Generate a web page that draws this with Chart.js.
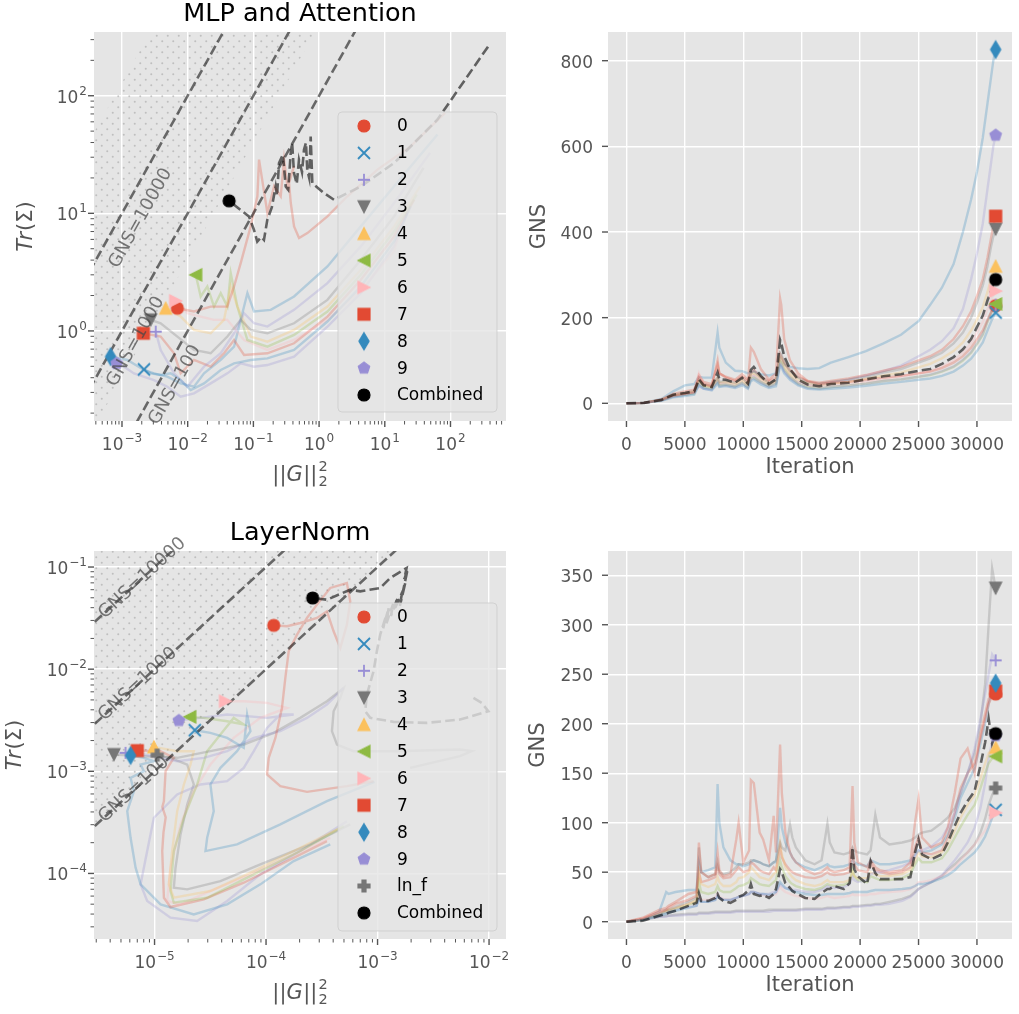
<!DOCTYPE html>
<html><head><meta charset="utf-8">
<script src="https://cdn.jsdelivr.net/npm/chart.js@4.4.1/dist/chart.umd.min.js"></script>
<style>
html,body{margin:0;padding:0;background:#fff;width:1019px;height:1014px;overflow:hidden;position:relative}
canvas{position:absolute;display:block}
</style></head><body>
<canvas id="tl" width="520" height="505" style="left:0;top:0;width:520px;height:505px"></canvas>
<canvas id="tr" width="509" height="505" style="left:510px;top:0;width:509px;height:505px"></canvas>
<canvas id="bl" width="520" height="509" style="left:0;top:505px;width:520px;height:509px"></canvas>
<canvas id="br" width="509" height="509" style="left:510px;top:505px;width:509px;height:509px"></canvas>
<script>
// ---------------- DATA ----------------
const seriesNames = ['0','1','2','3','4','5','6','7','8','9'];
const seriesColors = ['#E24A33','#348ABD','#988ED5','#777777','#FBC15E','#8EBA42','#FFB5B8','#E24A33','#348ABD','#988ED5'];
const seriesMarkers = ['o','x','+','v','^','<','>','s','d','p'];
const lnfName = 'ln_f', lnfColor = '#777777', lnfMarker = 'P';

// Tick labels (log axes: base "10" with an exponent)
const mlpGTickExps = [-3,-2,-1,0,1,2];
const mlpGTickLabels = ['−3','−2','−1','0','1','2'];
const mlpTrTickExps = [0,1,2];
const mlpTrTickLabels = ['0','1','2'];
const lnGTickExps = [-5,-4,-3,-2];
const lnGTickLabels = ['−5','−4','−3','−2'];
const lnTrTickExps = [-4,-3,-2,-1];
const lnTrTickLabels = ['−4','−3','−2','−1'];
const iterTicks = [0,5000,10000,15000,20000,25000,30000];
const mlpGnsTicks = [0,200,400,600,800];
const lnGnsTicks = [0,50,100,150,200,250,300,350];

// Reference GNS iso-lines
const gnsLevels = [100,1000,10000];
const gnsLineG = [1e-8,1e4];
const mlpHatchBand = [400,130000];
const lnHatchBand = [100,null];
const mlpGnsLabelText = ['GNS=10000','GNS=1000','GNS=100'];
const mlpGnsLabelLogG = [-2.715,-2.791,-2.193];
const mlpGnsLabelLogTr = [0.959,-0.091,-0.46];
const lnGnsLabelText = ['GNS=10000','GNS=1000','GNS=100'];
const lnGnsLabelLogG = [-5.110,-5.150,-5.185];
const lnGnsLabelLogTr = [-1.111,-2.147,-3.18];

// MLP and Attention: trajectories as [log10 ||G||^2, log10 Tr(Sigma)], start -> end
const mlpPathCombined = [[2.571,2.417],[1.80,1.796],[1.14,1.427],[0.633,1.228],[0.227,1.115],[0.075,1.172],[-0.103,1.257],[-0.115,1.45],[-0.128,1.654],[-0.15,1.30],[-0.18,1.37],[-0.20,1.60],[-0.23,1.54],[-0.26,1.35],[-0.306,1.455],[-0.34,1.25],[-0.382,1.342],[-0.41,1.60],[-0.432,1.512],[-0.47,1.20],[-0.508,1.228],[-0.55,1.50],[-0.61,1.427],[-0.64,1.15],[-0.661,1.228],[-0.72,1.05],[-0.788,0.945],[-0.839,0.774],[-0.88,0.80],[-0.941,0.76],[-0.991,0.86],[-1.067,0.973],[-1.37,1.106]];
const mlpPath0 = [[1.919,1.855],[1.396,1.571],[0.888,1.372],[0.431,1.145],[0.127,0.974],[-0.178,0.832],[-0.305,0.790],[-0.381,0.889],[-0.431,1.088],[-0.457,1.259],[-0.381,1.401],[-0.482,1.230],[-0.533,1.457],[-0.584,1.145],[-0.685,1.230],[-0.787,1.003],[-0.914,1.457],[-0.939,1.145],[-1.041,0.889],[-1.193,0.577],[-1.294,0.378],[-1.396,0.207],[-1.650,0.207],[-1.904,0.165],[-2.157,0.193]];
const mlpPath1 = [[1.396,1.060],[1.142,0.761],[0.635,0.378],[0.127,0.080],[-0.381,-0.162],[-0.787,-0.233],[-1.041,-0.247],[-1.294,-0.276],[-1.497,-0.332],[-1.751,-0.446],[-1.954,-0.503],[-2.107,-0.418],[-2.259,-0.361],[-2.411,-0.375],[-2.563,-0.361],[-2.665,-0.327]];
const mlpPath2 = [[1.690,1.514],[1.142,1.088],[0.635,0.719],[0.127,0.406],[-0.381,0.179],[-0.787,0.037],[-0.990,0.065],[-1.142,0.151],[-1.294,-0.020],[-1.497,-0.190],[-1.751,-0.304],[-2.005,-0.474],[-2.208,-0.361],[-2.411,-0.162],[-2.487,-0.006]];
const mlpPath3 = [[1.589,1.386],[1.142,0.974],[0.635,0.605],[0.127,0.264],[-0.381,0.065],[-0.787,-0.020],[-1.041,0.009],[-1.193,0.094],[-1.396,-0.048],[-1.650,-0.190],[-1.904,-0.162],[-2.157,-0.048],[-2.411,0.065],[-2.563,0.094]];
const mlpPath4 = [[1.538,1.230],[1.142,0.889],[0.635,0.520],[0.127,0.207],[-0.381,0.009],[-0.787,-0.091],[-1.041,-0.048],[-1.244,0.207],[-1.345,0.378],[-1.447,0.094],[-1.650,-0.020],[-1.904,0.009],[-2.107,0.122],[-2.335,0.193]];
const mlpPath5 = [[1.487,1.159],[1.142,0.847],[0.635,0.477],[0.127,0.165],[-0.381,-0.034],[-0.787,-0.134],[-1.091,-0.077],[-1.244,0.207],[-1.345,0.491],[-1.396,0.207],[-1.497,0.321],[-1.599,0.207],[-1.701,0.378],[-1.802,0.293],[-1.878,0.477]];
const mlpPath6 = [[1.294,0.974],[1.142,0.676],[0.635,0.349],[0.127,0.094],[-0.381,-0.077],[-0.787,-0.162],[-1.142,-0.077],[-1.396,0.094],[-1.599,0.094],[-1.802,0.122],[-2.005,0.151],[-2.183,0.256]];
const mlpPath7 = [[1.447,1.116],[1.142,0.804],[0.635,0.435],[0.127,0.122],[-0.381,-0.105],[-0.787,-0.190],[-1.142,-0.205],[-1.294,-0.077],[-1.447,-0.190],[-1.650,-0.304],[-1.904,-0.247],[-2.107,-0.361],[-2.208,-0.190],[-2.411,-0.048],[-2.675,-0.020]];
const mlpPath8 = [[1.802,1.670],[1.142,1.230],[0.635,0.889],[0.127,0.548],[-0.381,0.293],[-0.736,0.179],[-0.990,0.165],[-1.091,0.321],[-1.142,0.207],[-1.193,0.094],[-1.294,-0.134],[-1.497,-0.247],[-1.751,-0.361],[-1.904,-0.474],[-2.107,-0.446],[-2.310,-0.389],[-2.513,-0.361],[-2.665,-0.332],[-2.919,-0.247],[-3.173,-0.219]];
const mlpPath9 = [[1.345,1.003],[1.142,0.719],[0.635,0.321],[0.127,0.037],[-0.381,-0.219],[-0.787,-0.290],[-0.990,-0.304],[-1.193,-0.276],[-1.396,-0.361],[-1.650,-0.446],[-1.904,-0.531],[-2.107,-0.560],[-2.310,-0.474],[-2.513,-0.418],[-2.817,-0.361],[-2.970,-0.304],[-3.081,-0.276]];

// LayerNorm trajectories [log10 ||G||^2, log10 Tr(Sigma)]
const lnPathCombined = [[-2.140,-2.281],[-2.066,-2.330],[-2.006,-2.412],[-2.260,-2.493],[-2.558,-2.526],[-2.857,-2.516],[-3.066,-2.477],[-3.110,-2.412],[-3.096,-2.249],[-3.036,-2.021],[-3.006,-1.825],[-2.976,-1.662],[-2.93,-1.50],[-2.95,-1.60],[-2.90,-1.40],[-2.92,-1.55],[-2.86,-1.36],[-2.88,-1.48],[-2.82,-1.30],[-2.85,-1.42],[-2.78,-1.25],[-2.80,-1.38],[-2.75,-1.15],[-2.78,-1.28],[-2.73,-1.02],[-2.76,-1.12],[-2.74,-1.01],[-2.887,-1.108],[-2.976,-1.205],[-3.155,-1.238],[-3.245,-1.222],[-3.454,-1.320],[-3.582,-1.303]];
const lnPath0 = [[-3.036,-3.097],[-3.275,-3.145],[-3.633,-3.201],[-3.872,-3.145],[-3.991,-3.031],[-3.976,-2.868],[-3.916,-2.673],[-3.857,-2.379],[-3.827,-2.086],[-3.797,-1.825],[-3.722,-1.662],[-3.633,-1.499],[-3.543,-1.368],[-3.424,-1.205],[-3.275,-1.157],[-3.245,-1.336],[-3.275,-1.564],[-3.334,-1.792],[-3.394,-1.629],[-3.454,-1.434],[-3.543,-1.499],[-3.693,-1.548],[-3.812,-1.580],[-3.931,-1.571]];
const lnPath1 = [[-3.027,-3.103],[-3.454,-3.292],[-3.872,-3.520],[-4.260,-3.716],[-4.543,-3.781],[-4.528,-3.651],[-4.469,-3.390],[-4.499,-3.129],[-4.409,-2.966],[-4.260,-2.803],[-4.140,-2.607],[-4.170,-2.444],[-4.200,-2.770],[-4.349,-2.673],[-4.499,-2.624],[-4.639,-2.598]];
const lnPath2 = [[-3.304,-2.184],[-3.454,-2.347],[-3.633,-2.477],[-3.872,-2.607],[-4.110,-2.673],[-4.349,-2.803],[-4.558,-2.868],[-4.797,-2.901],[-5.096,-2.836],[-5.260,-2.819]];
const lnPath3 = [[-2.707,-2.966],[-2.260,-2.852],[-2.155,-2.803],[-2.260,-2.787],[-2.857,-2.803],[-3.215,-2.803],[-3.364,-2.738],[-3.409,-2.607],[-3.394,-2.412],[-3.334,-2.281],[-3.304,-2.184],[-3.454,-2.314],[-3.693,-2.477],[-3.931,-2.624],[-4.200,-2.738],[-4.499,-2.803],[-4.797,-2.868],[-5.096,-2.852],[-5.364,-2.836]];
const lnPath4 = [[-3.334,-3.553],[-3.693,-3.749],[-4.110,-3.977],[-4.499,-4.172],[-4.827,-4.238],[-4.872,-4.107],[-4.842,-3.781],[-4.797,-3.390],[-4.737,-3.129],[-4.678,-2.934],[-4.648,-2.803],[-4.797,-2.803],[-5.006,-2.761]];
const lnPath5 = [[-3.304,-3.537],[-3.693,-3.781],[-4.110,-4.009],[-4.528,-4.238],[-4.827,-4.287],[-4.857,-4.172],[-4.827,-3.781],[-4.737,-3.455],[-4.618,-3.129],[-4.528,-2.803],[-4.409,-2.640],[-4.290,-2.477],[-4.200,-2.542],[-4.349,-2.510],[-4.558,-2.477],[-4.684,-2.467]];
const lnPath6 = [[-3.424,-3.651],[-3.752,-3.814],[-4.140,-4.009],[-4.499,-4.172],[-4.767,-4.303],[-4.887,-4.270],[-4.857,-3.944],[-4.767,-3.520],[-4.648,-3.194],[-4.499,-2.934],[-4.290,-2.673],[-4.051,-2.477],[-3.812,-2.379],[-3.991,-2.330],[-4.200,-2.314],[-4.364,-2.314]];
const lnPath7 = [[-3.454,-3.683],[-3.812,-3.879],[-4.200,-4.091],[-4.558,-4.254],[-4.857,-4.329],[-4.916,-4.238],[-4.931,-3.781],[-4.92,-3.60],[-4.90,-3.45],[-4.93,-3.35],[-4.916,-3.292],[-4.901,-2.999],[-4.827,-2.868],[-4.946,-2.803],[-5.155,-2.797]];
const lnPath8 = [[-3.424,-3.716],[-3.752,-3.879],[-4.051,-4.107],[-4.349,-4.303],[-4.648,-4.401],[-4.946,-4.303],[-5.125,-4.107],[-5.170,-3.944],[-5.215,-3.651],[-5.245,-3.390],[-5.185,-3.194],[-5.215,-3.064],[-5.096,-2.999],[-5.125,-2.934],[-5.006,-2.901],[-5.096,-2.868],[-5.215,-2.845]];
const lnPath9 = [[-3.275,-3.488],[-3.693,-3.781],[-4.051,-4.009],[-4.349,-4.270],[-4.618,-4.466],[-4.857,-4.433],[-5.066,-4.270],[-5.125,-4.107],[-5.066,-3.781],[-5.006,-3.455],[-4.797,-3.227],[-4.588,-3.129],[-4.349,-3.097],[-4.200,-2.966],[-4.110,-2.803],[-3.991,-2.575],[-3.872,-2.444],[-3.752,-2.444],[-3.991,-2.477],[-4.349,-2.444],[-4.588,-2.477],[-4.782,-2.503]];
const lnPathLnF = [[-3.245,-3.520],[-3.603,-3.716],[-4.051,-3.912],[-4.409,-4.075],[-4.707,-4.156],[-4.827,-4.140],[-4.812,-3.944],[-4.767,-3.618],[-4.707,-3.325],[-4.648,-3.129],[-4.707,-2.934],[-4.857,-2.868],[-4.976,-2.842]];

// MLP and Attention: GNS vs iteration
const mlpIters = [0,1500,3000,4000,5000,5800,6200,6600,7300,7800,7950,8500,9300,9900,10400,10650,10900,11500,12200,12800,13150,13250,13500,14000,14700,15500,16500,17500,19000,20500,22000,23500,25000,26000,27000,28000,28800,29500,30000,30500,30900,31200,31400,31600];
const mlpGns0 = [0,1,8,18,22,26,60,45,40,100,70,60,52,62,50,130,120,80,55,70,245,230,150,100,70,52,45,48,50,55,60,64,70,74,82,95,110,130,150,170,195,212,222,228];
const mlpGns1 = [0,1,6,14,17,20,42,34,30,46,38,40,36,42,34,52,55,44,36,40,88,85,70,55,42,34,32,34,37,41,46,50,55,58,64,74,88,104,122,142,170,190,202,212];
const mlpGns2 = [0,1,7,16,20,24,46,36,33,50,40,42,38,46,36,56,58,48,38,44,92,90,75,58,44,36,34,38,41,46,52,56,62,67,75,86,102,120,140,162,192,212,224,230];
const mlpGns3 = [0,1,8,20,25,28,55,44,40,62,50,52,48,58,46,70,75,60,48,55,118,115,95,75,60,50,46,50,55,62,72,80,95,105,118,140,165,200,235,275,320,365,390,407];
const mlpGns4 = [0,1,8,19,23,27,52,42,38,60,48,50,46,55,44,66,70,58,46,52,108,105,90,70,55,46,42,46,50,57,65,72,84,92,105,122,142,170,195,225,260,290,308,320];
const mlpGns5 = [0,1,7,17,20,23,48,38,34,52,42,44,40,48,38,58,60,50,40,46,98,95,80,62,46,38,35,38,42,46,52,56,62,66,74,85,100,118,138,160,190,210,222,232];
const mlpGns6 = [0,1,7,18,22,25,70,45,38,58,46,48,44,52,42,62,66,54,44,50,102,100,85,66,50,42,38,42,45,50,56,62,70,76,86,100,118,140,165,190,220,240,253,262];
const mlpGns7 = [0,1,9,22,28,32,66,50,45,90,70,62,55,68,55,70,78,62,52,60,115,110,95,78,62,52,48,52,58,66,76,85,100,110,125,150,180,215,250,290,340,385,415,437];
const mlpGns8 = [0,1,10,28,42,45,62,60,60,165,130,95,76,75,70,72,75,68,65,70,105,100,90,85,82,80,82,95,108,122,140,160,192,230,270,325,400,476,540,620,700,760,800,826];
const mlpGns9 = [0,1,7,16,20,24,40,34,32,55,45,44,40,48,38,60,65,50,40,48,95,90,75,60,48,42,42,48,55,65,75,88,110,125,145,175,220,290,350,420,500,560,600,626];
const mlpGnsCombined = [0,1,8,20,24,28,56,42,38,72,56,55,48,60,46,78,85,64,45,56,148,140,110,80,55,44,40,45,48,56,63,68,76,80,92,108,126,150,178,205,240,262,278,289];

// LayerNorm: GNS vs iteration
const lnIters = [0,1400,2800,3400,3600,4200,5300,6000,6200,6400,7000,7600,7800,7950,8300,8900,9400,9600,10000,10500,10650,10900,11400,11700,12200,12600,12800,13150,13300,13600,14000,14200,14500,15300,16100,16700,17200,17400,17800,18600,19100,19350,19500,19800,20600,20900,21300,21700,22500,23600,24300,24700,25000,25300,26100,27000,27500,28100,28600,29200,29800,30300,30700,31000,31300,31600];
const lnGns0 = [0,3,10,12,14,18,22,26,80,50,45,48,70,52,46,48,83,100,60,72,143,140,90,83,62,107,70,179,130,90,70,65,60,52,48,50,55,52,50,52,55,137,80,60,55,62,55,52,50,52,60,100,124,85,75,80,95,130,165,175,150,190,210,225,228,230];
const lnGns1 = [0,2,6,8,9,11,14,16,22,20,20,22,26,24,22,22,24,25,26,28,30,30,28,28,27,28,30,40,38,34,32,31,30,28,27,27,28,28,28,28,29,30,30,30,30,31,32,32,32,33,34,36,38,38,40,44,47,52,58,64,70,78,86,95,105,113];
const lnGns2 = [0,2,7,9,10,12,15,16,22,20,20,22,26,24,22,22,24,25,26,28,30,30,28,28,28,30,30,38,36,34,33,32,32,30,30,32,36,35,34,35,38,45,42,40,42,48,50,50,52,56,60,66,72,72,76,85,95,110,130,150,175,205,230,250,270,264];
const lnGns3 = [0,2,8,12,12,15,20,24,75,50,45,48,60,50,48,50,55,58,58,60,62,62,60,58,56,60,62,80,75,72,98,85,75,62,58,62,99,80,70,68,70,75,72,70,68,72,108,85,78,80,82,85,88,90,92,100,105,115,130,150,170,200,240,300,357,337];
const lnGns4 = [0,2,8,11,12,14,18,22,50,38,35,38,45,40,36,36,40,44,45,50,55,52,45,44,42,48,50,80,68,55,48,45,42,38,36,38,42,40,40,40,42,50,46,44,44,50,48,46,46,48,52,62,70,66,65,70,78,92,105,118,128,145,160,170,175,176];
const lnGns5 = [0,2,7,10,11,13,17,20,40,30,28,30,36,32,30,30,34,36,37,40,44,42,38,37,36,40,42,62,55,46,40,38,36,33,32,34,38,37,36,37,40,52,46,42,40,46,44,42,42,44,48,58,64,60,60,64,72,85,96,108,118,135,150,160,165,167];
const lnGns6 = [0,3,9,11,12,14,18,20,26,22,22,24,28,25,23,22,24,25,26,28,30,30,28,27,26,27,28,35,33,30,28,27,26,24,23,24,26,25,24,25,26,28,27,27,27,28,28,29,30,31,33,36,40,40,42,46,50,55,62,70,78,86,92,100,105,110];
const lnGns7 = [0,4,12,14,16,20,28,30,50,40,42,45,55,48,44,45,52,55,50,52,60,58,52,50,48,55,52,75,65,58,52,50,48,45,44,46,50,48,47,48,50,70,58,52,50,58,52,50,48,50,55,75,85,70,68,72,85,110,135,150,160,185,205,220,228,233];
const lnGns8 = [0,2,10,30,28,30,32,32,60,50,52,55,139,100,75,62,58,58,56,58,60,62,60,58,56,60,60,115,95,80,70,65,60,55,52,55,58,56,55,56,58,62,60,58,56,62,60,58,58,60,62,68,72,70,72,78,88,105,125,140,155,180,200,220,235,241];
const lnGns9 = [0,2,5,5,6,6,7,7,8,8,8,9,9,9,9,9,10,10,10,10,10,10,10,10,10,11,11,11,11,11,11,11,11,12,12,12,13,13,13,14,14,15,15,15,16,16,17,17,18,21,25,29,33,35,40,47,54,62,70,80,95,115,140,165,182,188];
const lnGnsLnF = [0,2,5,6,6,7,8,8,9,9,9,10,10,10,10,10,11,11,11,11,11,11,11,11,12,12,12,12,12,12,12,12,12,13,13,13,14,14,14,15,15,16,16,16,17,17,18,18,20,23,26,30,33,35,40,46,52,58,64,70,78,90,104,118,128,135];
const lnGnsCombined = [0,1,6,8,9,11,16,19,29,21,21,24,28,24,21,19,22,25,27,32,38,28,26,27,24,28,33,53,50,39,34,31,29,24,23,29,33,33,36,33,39,75,53,46,38,61,49,43,43,43,45,70,83,68,63,68,80,97,110,122,132,158,181,205,180,190];

// ---------------- RENDERING ----------------
const FONT = '"DejaVu Sans", "Liberation Sans", sans-serif';
Chart.defaults.font.family = FONT;
Chart.defaults.color = '#555555';

function rgba(hex, a) { const n = parseInt(hex.slice(1), 16); return `rgba(${(n>>16)&255},${(n>>8)&255},${n&255},${a})`; }

function markerImg(kind, color) {
  const S = 26, c = document.createElement('canvas'); c.width = S; c.height = S;
  const g = c.getContext('2d'); g.translate(S/2, S/2);
  g.fillStyle = color; g.strokeStyle = color; g.lineWidth = 1.6; g.lineJoin = 'miter';
  const h = 6; g.beginPath();
  let filled = true;
  switch (kind) {
    case 'o': g.arc(0,0,h,0,Math.PI*2); break;
    case 'x': g.moveTo(-h,-h); g.lineTo(h,h); g.moveTo(-h,h); g.lineTo(h,-h); filled = false; g.lineWidth = 1.8; break;
    case '+': g.moveTo(-h,0); g.lineTo(h,0); g.moveTo(0,-h); g.lineTo(0,h); filled = false; g.lineWidth = 1.8; break;
    case '^': g.moveTo(0,-h); g.lineTo(h,h); g.lineTo(-h,h); g.closePath(); break;
    case 'v': g.moveTo(0,h); g.lineTo(h,-h); g.lineTo(-h,-h); g.closePath(); break;
    case '<': g.moveTo(-h,0); g.lineTo(h,-h); g.lineTo(h,h); g.closePath(); break;
    case '>': g.moveTo(h,0); g.lineTo(-h,-h); g.lineTo(-h,h); g.closePath(); break;
    case 's': g.rect(-h,-h,2*h,2*h); break;
    case 'd': g.moveTo(0,-h*1.414); g.lineTo(h*0.85,0); g.lineTo(0,h*1.414); g.lineTo(-h*0.85,0); g.closePath(); break;
    case 'p': for (let k = 0; k < 5; k++) { const a = -Math.PI/2 + k*2*Math.PI/5; const px = h*Math.cos(a), py = h*Math.sin(a); if (k) g.lineTo(px,py); else g.moveTo(px,py); } g.closePath(); break;
    case 'P': { const t = h/3; g.moveTo(-t,-h); g.lineTo(t,-h); g.lineTo(t,-t); g.lineTo(h,-t); g.lineTo(h,t); g.lineTo(t,t); g.lineTo(t,h); g.lineTo(-t,h); g.lineTo(-t,t); g.lineTo(-h,t); g.lineTo(-h,-t); g.lineTo(-t,-t); g.closePath(); break; }
  }
  if (filled) { g.fill(); g.lineWidth = 1.2; g.stroke(); } else g.stroke();
  return c;
}

function dotPattern() {
  const p = document.createElement('canvas'); p.width = 11; p.height = 11;
  const g = p.getContext('2d'); g.fillStyle = 'rgba(165,165,165,0.6)';
  g.beginPath(); g.arc(2.75,2.75,1.0,0,Math.PI*2); g.fill();
  g.beginPath(); g.arc(8.25,8.25,1.0,0,Math.PI*2); g.fill();
  return g.createPattern(p, 'repeat');
}

const logPts = path => path.map(p => ({x: Math.pow(10, p[0]), y: Math.pow(10, p[1])}));
const tsPts = iters => vals => vals.map((v, i) => ({x: iters[i], y: v}));

function seriesDatasets(series, combined, toPts) {
  const ds = [];
  series.forEach((s, i) => {
    const pts = toPts(s.data);
    ds.push({data: pts, showLine: true, borderColor: rgba(s.color, 0.28), borderWidth: 2.4, pointRadius: 0, pointHoverRadius: 0, fill: false, tension: 0, order: 10});
    ds.push({data: [pts[pts.length-1]], showLine: false, pointStyle: markerImg(s.marker, s.color), pointRadius: 6, pointHoverRadius: 6, order: 1 + (series.length - i) * 0.01});
  });
  const cp = toPts(combined);
  ds.push({data: cp, showLine: true, borderColor: 'rgba(0,0,0,0.58)', borderDash: [9.6, 4.2], borderWidth: 2.6, pointRadius: 0, pointHoverRadius: 0, fill: false, tension: 0, order: 5});
  ds.push({data: [cp[cp.length-1]], showLine: false, pointStyle: markerImg('o', '#000000'), pointRadius: 6, pointHoverRadius: 6, order: 0});
  return ds;
}

// datasets 0 and 1: dotted hatch band; then the three dashed GNS iso-lines
function gnsDatasets(band) {
  const ds = [];
  const lo = band[0], hi = band[1];
  ds.push({data: gnsLineG.map(g => ({x: g, y: g * lo})), showLine: true, borderWidth: 0, borderColor: 'rgba(0,0,0,0)', backgroundColor: dotPattern(), fill: hi ? 1 : 'end', pointRadius: 0, pointHoverRadius: 0, order: 20});
  ds.push({data: gnsLineG.map(g => ({x: g, y: g * (hi || lo)})), showLine: true, borderWidth: 0, borderColor: 'rgba(0,0,0,0)', fill: false, pointRadius: 0, pointHoverRadius: 0, order: 21});
  gnsLevels.forEach(lv => ds.push({data: gnsLineG.map(g => ({x: g, y: g * lv})), showLine: true, borderColor: 'rgba(0,0,0,0.55)', borderDash: [9.6, 4.2], borderWidth: 2.6, pointRadius: 0, pointHoverRadius: 0, fill: false, order: 8}));
  return ds;
}

function logTickList(minExp, maxExp, exps, labels) {
  const out = [];
  for (let e = Math.floor(minExp); e <= Math.ceil(maxExp); e++) for (let m = 1; m <= 9; m++) {
    const v = m * Math.pow(10, e), lv = Math.log10(v);
    if (lv >= minExp && lv <= maxExp) {
      const i = exps.indexOf(e);
      out.push({value: v, major: m === 1, base: (m === 1 && i >= 0) ? '10' : '', exp: (m === 1 && i >= 0) ? labels[i] : ''});
    }
  }
  return out;
}
const linTicks = arr => arr.map(v => ({value: v, major: true, base: String(v), exp: ''}));

function roundRect(ctx, x, y, w, h, r) {
  ctx.beginPath(); ctx.moveTo(x + r, y); ctx.lineTo(x + w - r, y); ctx.quadraticCurveTo(x + w, y, x + w, y + r);
  ctx.lineTo(x + w, y + h - r); ctx.quadraticCurveTo(x + w, y + h, x + w - r, y + h); ctx.lineTo(x + r, y + h);
  ctx.quadraticCurveTo(x, y + h, x, y + h - r); ctx.lineTo(x, y + r); ctx.quadraticCurveTo(x, y, x + r, y); ctx.closePath();
}

function drawPieces(ctx, pieces, cx, baseline) {
  let w = 0; pieces.forEach(p => { ctx.font = p.font; p.w = ctx.measureText(p.t).width; w += p.w + (p.gap || 0); });
  let x = cx - w / 2;
  pieces.forEach(p => { ctx.font = p.font; ctx.fillText(p.t, x, baseline + (p.dy || 0)); x += p.w + (p.gap || 0); });
}

// tick label: base text (17px) with optional raised exponent (12px)
function tickLabelWidth(ctx, t) {
  ctx.font = `17px ${FONT}`; let w = ctx.measureText(t.base).width;
  if (t.exp) { ctx.font = `12px ${FONT}`; w += 1 + ctx.measureText(t.exp).width; }
  return w;
}
function drawTickLabel(ctx, t, xLeft, baseline) {
  ctx.font = `17px ${FONT}`; ctx.fillText(t.base, xLeft, baseline);
  if (t.exp) { const w = ctx.measureText(t.base).width; ctx.font = `12px ${FONT}`; ctx.fillText(t.exp, xLeft + w + 1, baseline - 8); }
}

function deco(cfg) {
  return {
    id: 'deco',
    beforeDraw(chart) {
      const {ctx, chartArea: a} = chart;
      ctx.save(); ctx.fillStyle = '#E5E5E5'; ctx.fillRect(a.left, a.top, a.right - a.left, a.bottom - a.top); ctx.restore();
    },
    afterDatasetsDraw(chart) {
      const {ctx, scales: {x, y}} = chart;
      ctx.save();
      if (cfg.gnsLabels) {
        const L = cfg.gnsLabels;
        L.text.forEach((t, i) => {
          const gx = Math.pow(10, L.lg[i]), ty = Math.pow(10, L.lt[i]);
          const px = x.getPixelForValue(gx), py = y.getPixelForValue(ty);
          const qx = x.getPixelForValue(gx / 10), qy = y.getPixelForValue(ty / 10);
          const ang = Math.atan2(py - qy, px - qx);
          ctx.save(); ctx.translate(px, py); ctx.rotate(ang);
          ctx.font = `18px ${FONT}`; ctx.fillStyle = 'rgba(70,70,70,0.72)'; ctx.textAlign = 'center'; ctx.textBaseline = 'middle';
          ctx.fillText(t, 0, 0); ctx.restore();
        });
      }
      if (cfg.legend) {
        const L = cfg.legend;
        roundRect(ctx, L.x, L.y, L.w, L.h, 4);
        ctx.fillStyle = 'rgba(229,229,229,0.8)'; ctx.fill();
        ctx.strokeStyle = 'rgba(204,204,204,0.8)'; ctx.lineWidth = 1; ctx.stroke();
        ctx.font = `17px ${FONT}`; ctx.fillStyle = '#000'; ctx.textAlign = 'left'; ctx.textBaseline = 'middle';
        L.items.forEach((it, i) => {
          const cy = L.rowTop + i * L.rowStep;
          ctx.drawImage(it.img, L.markerX - it.img.width / 2, cy - it.img.height / 2);
          ctx.fillText(it.label, L.textX, cy + 1);
        });
      }
      ctx.restore();
    },
    afterDraw(chart) {
      const {ctx, chartArea: a, scales: {x, y}} = chart;
      ctx.save();
      ctx.strokeStyle = '#555555'; ctx.fillStyle = '#555555'; ctx.textAlign = 'left'; ctx.textBaseline = 'alphabetic';
      x.ticks.forEach(t => {
        const p = x.getPixelForValue(t.value); if (p < a.left - 0.5 || p > a.right + 0.5) return;
        ctx.lineWidth = t.major ? 1.4 : 1.0; const L = t.major ? 6 : 3.5;
        ctx.beginPath(); ctx.moveTo(p, a.bottom); ctx.lineTo(p, a.bottom + L); ctx.stroke();
        if (t.base) { const w = tickLabelWidth(ctx, t); drawTickLabel(ctx, t, p - w / 2, a.bottom + 29); }
      });
      y.ticks.forEach(t => {
        const p = y.getPixelForValue(t.value); if (p < a.top - 0.5 || p > a.bottom + 0.5) return;
        ctx.lineWidth = t.major ? 1.4 : 1.0; const L = t.major ? 6 : 3.5;
        ctx.beginPath(); ctx.moveTo(a.left, p); ctx.lineTo(a.left - L, p); ctx.stroke();
        if (t.base) { const w = tickLabelWidth(ctx, t); drawTickLabel(ctx, t, a.left - cfg.yLabelGap - w, p + 7); }
      });
      // title
      if (cfg.title) {
        ctx.font = `25.5px ${FONT}`; ctx.fillStyle = '#000'; ctx.textAlign = 'center'; ctx.textBaseline = 'alphabetic';
        ctx.fillText(cfg.title, (a.left + a.right) / 2, a.top - 11.5);
      }
      // axis titles
      ctx.fillStyle = '#555555'; ctx.textAlign = 'left'; ctx.textBaseline = 'alphabetic';
      const cx = (a.left + a.right) / 2, cy = (a.top + a.bottom) / 2;
      if (cfg.xTitle === 'G') {
        drawPieces(ctx, [
          {t: '||', font: `21px ${FONT}`},
          {t: 'G', font: `italic 21px ${FONT}`, gap: 0.5},
          {t: '||', font: `21px ${FONT}`, gap: 1},
          {t: '2', font: `14.5px ${FONT}`, dy: -10}
        ], cx, a.bottom + 60);
        ctx.font = `21px ${FONT}`; const w1 = ctx.measureText('||||').width; ctx.font = `italic 21px ${FONT}`; const w2 = ctx.measureText('G').width;
        ctx.font = `14.5px ${FONT}`; const w3 = ctx.measureText('2').width;
        const total = w1 + w2 + w3 + 1.5;
        ctx.fillText('2', cx - total / 2 + w1 + w2 + 1.5, a.bottom + 65);
      } else {
        ctx.font = `21px ${FONT}`; ctx.textAlign = 'center'; ctx.textBaseline = 'middle';
        ctx.fillText(cfg.xTitle, cx, a.bottom + 47);
      }
      ctx.save(); ctx.translate(cfg.yTitleX, cy); ctx.rotate(-Math.PI / 2);
      ctx.textBaseline = 'middle'; ctx.textAlign = 'left';
      if (cfg.yTitle === 'Tr') {
        drawPieces(ctx, [{t: 'Tr', font: `italic 21px ${FONT}`, gap: 1}, {t: '(Σ)', font: `21px ${FONT}`}], 0, 0);
      } else {
        ctx.font = `21px ${FONT}`; ctx.textAlign = 'center'; ctx.fillText(cfg.yTitle, 0, 0);
      }
      ctx.restore();
      ctx.restore();
    }
  };
}

function makeChart(id, cfg) {
  const cv = document.getElementById(id);
  const gridColor = c => (c.tick && c.tick.major) ? '#ffffff' : 'rgba(0,0,0,0)';
  const axis = (ax) => ({
    type: ax.type, min: ax.min, max: ax.max,
    grid: {color: gridColor, lineWidth: 1.4, drawTicks: false},
    border: {display: false},
    ticks: {autoSkip: false, maxRotation: 0, minRotation: 0, padding: 0, font: {size: 17, family: FONT}, color: '#555555', callback: () => ''},
    afterBuildTicks: s => { s.ticks = ax.ticks.map(t => Object.assign({}, t)); }
  });
  const xo = axis(cfg.x); xo.position = 'bottom'; xo.afterFit = s => { s.height = cv.height - cfg.area.bottom; };
  const yo = axis(cfg.y); yo.position = 'left'; yo.afterFit = s => { s.width = cfg.area.left; };
  return new Chart(cv.getContext('2d'), {
    type: 'line',
    data: {datasets: cfg.datasets},
    options: {
      responsive: false, maintainAspectRatio: false, animation: false, events: [], devicePixelRatio: 1,
      layout: {padding: {left: 0, top: cfg.area.top, right: cv.width - cfg.area.right, bottom: 0}},
      plugins: {legend: {display: false}, title: {display: false}, tooltip: {enabled: false}},
      scales: {x: xo, y: yo}
    },
    plugins: [deco(cfg)]
  });
}

const mlpSeries = [mlpPath0,mlpPath1,mlpPath2,mlpPath3,mlpPath4,mlpPath5,mlpPath6,mlpPath7,mlpPath8,mlpPath9].map((d, i) => ({data: d, color: seriesColors[i], marker: seriesMarkers[i], name: seriesNames[i]}));
const lnSeries = [lnPath0,lnPath1,lnPath2,lnPath3,lnPath4,lnPath5,lnPath6,lnPath7,lnPath8,lnPath9].map((d, i) => ({data: d, color: seriesColors[i], marker: seriesMarkers[i], name: seriesNames[i]}));
lnSeries.push({data: lnPathLnF, color: lnfColor, marker: lnfMarker, name: lnfName});
const mlpGnsSeries = [mlpGns0,mlpGns1,mlpGns2,mlpGns3,mlpGns4,mlpGns5,mlpGns6,mlpGns7,mlpGns8,mlpGns9].map((d, i) => ({data: d, color: seriesColors[i], marker: seriesMarkers[i]}));
const lnGnsSeries = [lnGns0,lnGns1,lnGns2,lnGns3,lnGns4,lnGns5,lnGns6,lnGns7,lnGns8,lnGns9].map((d, i) => ({data: d, color: seriesColors[i], marker: seriesMarkers[i]}));
lnGnsSeries.push({data: lnGnsLnF, color: lnfColor, marker: lnfMarker});

const legendItems = series => series.map(s => ({img: markerImg(s.marker, s.color), label: s.name})).concat([{img: markerImg('o', '#000000'), label: 'Combined'}]);

// Top-left: MLP and Attention
makeChart('tl', {
  area: {left: 94, top: 32, right: 506, bottom: 421}, yLabelGap: 7,
  title: 'MLP and Attention', xTitle: 'G', yTitle: 'Tr', yTitleX: 27,
  x: {type: 'logarithmic', min: Math.pow(10, -3.426), max: Math.pow(10, 2.845), ticks: logTickList(-3.426, 2.845, mlpGTickExps, mlpGTickLabels)},
  y: {type: 'logarithmic', min: Math.pow(10, -0.766), max: Math.pow(10, 2.542), ticks: logTickList(-0.766, 2.542, mlpTrTickExps, mlpTrTickLabels)},
  datasets: gnsDatasets(mlpHatchBand).concat(seriesDatasets(mlpSeries, mlpPathCombined, logPts)),
  gnsLabels: {text: mlpGnsLabelText, lg: mlpGnsLabelLogG, lt: mlpGnsLabelLogTr},
  legend: {x: 338, y: 112, w: 159, h: 300, markerX: 364, textX: 397, rowTop: 126, rowStep: 26.9, items: legendItems(mlpSeries)}
});

// Bottom-left: LayerNorm
makeChart('bl', {
  area: {left: 94, top: 46, right: 506, bottom: 434}, yLabelGap: 7,
  title: 'LayerNorm', xTitle: 'G', yTitle: 'Tr', yTitleX: 16,
  x: {type: 'logarithmic', min: Math.pow(10, -5.543), max: Math.pow(10, -1.848), ticks: logTickList(-5.543, -1.848, lnGTickExps, lnGTickLabels)},
  y: {type: 'logarithmic', min: Math.pow(10, -4.642), max: Math.pow(10, -0.843), ticks: logTickList(-4.642, -0.843, lnTrTickExps, lnTrTickLabels)},
  datasets: gnsDatasets(lnHatchBand).concat(seriesDatasets(lnSeries, lnPathCombined, logPts)),
  gnsLabels: {text: lnGnsLabelText, lg: lnGnsLabelLogG, lt: lnGnsLabelLogTr},
  legend: {x: 338, y: 98, w: 159, h: 328, markerX: 364, textX: 397, rowTop: 112, rowStep: 26.9, items: legendItems(lnSeries)}
});

// Top-right: GNS vs iteration (MLP and Attention)
makeChart('tr', {
  area: {left: 98, top: 32, right: 509, bottom: 421}, yLabelGap: 15,
  title: null, xTitle: 'Iteration', yTitle: 'GNS', yTitleX: 30,
  x: {type: 'linear', min: -1580, max: 33000, ticks: linTicks(iterTicks)},
  y: {type: 'linear', min: -41.3, max: 867, ticks: linTicks(mlpGnsTicks)},
  datasets: seriesDatasets(mlpGnsSeries, mlpGnsCombined, tsPts(mlpIters))
});

// Bottom-right: GNS vs iteration (LayerNorm)
makeChart('br', {
  area: {left: 98, top: 46, right: 509, bottom: 434}, yLabelGap: 15,
  title: null, xTitle: 'Iteration', yTitle: 'GNS', yTitleX: 29,
  x: {type: 'linear', min: -1580, max: 33000, ticks: linTicks(iterTicks)},
  y: {type: 'linear', min: -17.5, max: 374.5, ticks: linTicks(lnGnsTicks)},
  datasets: seriesDatasets(lnGnsSeries, lnGnsCombined, tsPts(lnIters))
});
</script>
</body></html>
